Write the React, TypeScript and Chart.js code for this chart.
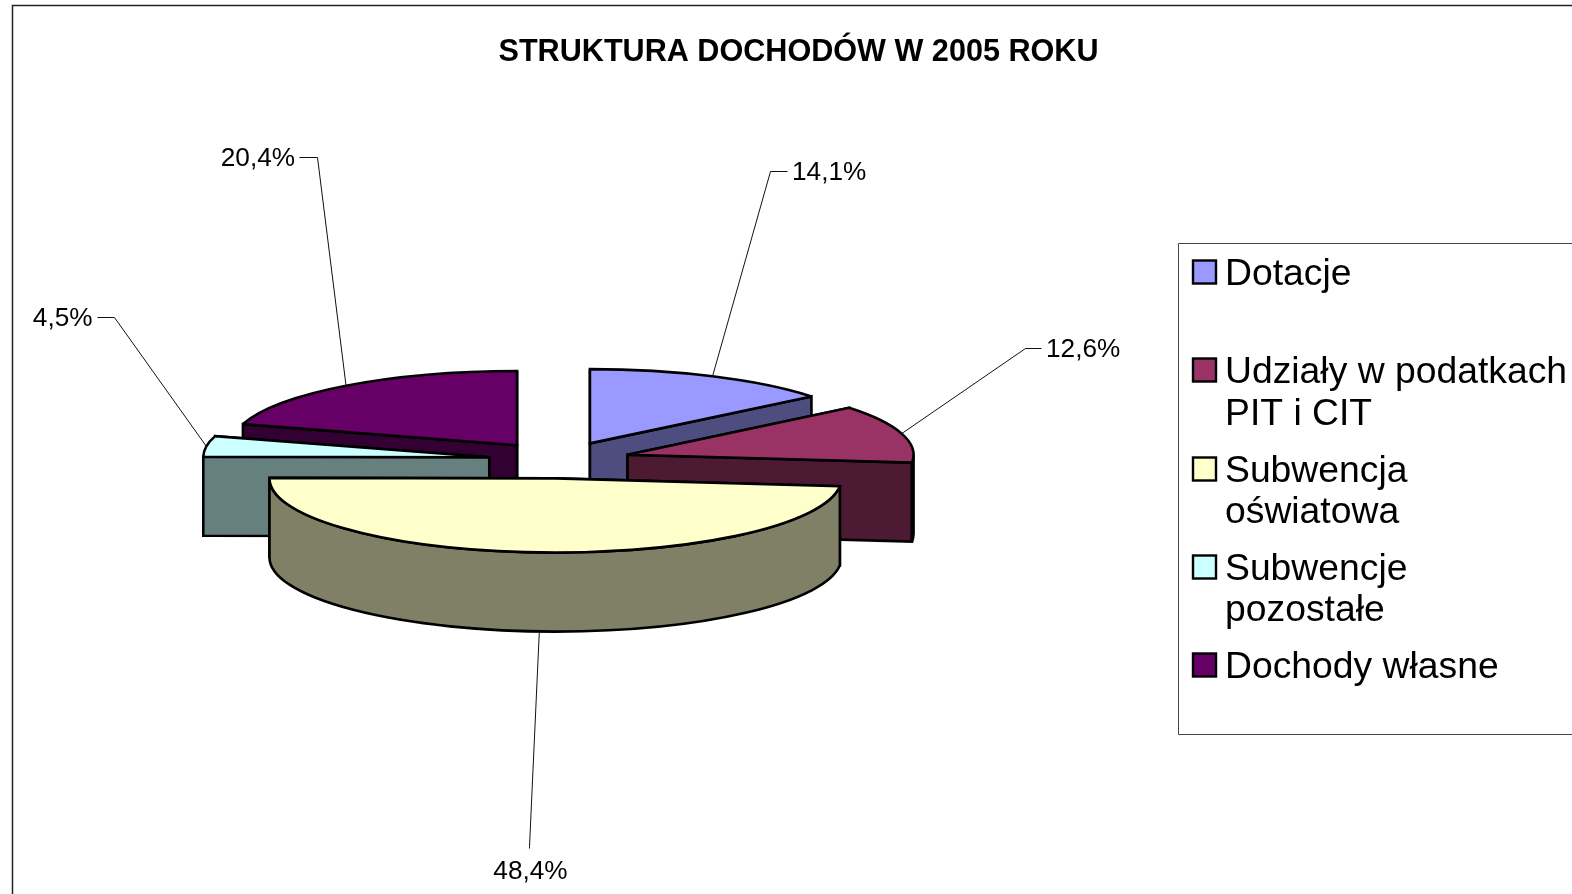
import React, { useEffect, useRef } from "react";
import { Chart, registerables } from "chart.js";

Chart.register(...registerables);

const titleText = "STRUKTURA DOCHODÓW W 2005 ROKU";
const categories = ["Dotacje", "Udziały w podatkach PIT i CIT", "Subwencja oświatowa", "Subwencje pozostałe", "Dochody własne"];
const legendLines = [["Dotacje"], ["Udziały w podatkach", "PIT i CIT"], ["Subwencja", "oświatowa"], ["Subwencje", "pozostałe"], ["Dochody własne"]];
const shares = [14.1, 12.6, 48.4, 4.5, 20.4];
const topColors = ["#9999FF", "#993366", "#FFFFCC", "#CCFFFF", "#660066"];
const wallColors = ["#4D4D80", "#4D1A33", "#808066", "#668080", "#330033"];
const wallOrder = [4, 0, 1, 3, 2];

// presentation constants
const FONT = '"Liberation Sans", Arial, sans-serif';
const SQUASH = 0.2594;
const DEPTH = 79;
const EXPLODE = 71;
const RADIUS = 286;
const elbows = [[770, 171], [1025, 348], [529, 846], [114, 317], [317, 157]];
const leaderEnds = [[787, 171], [1041, 348], [529, 848], [97, 317], [299, 157]];
const labelPos: [number, number, CanvasTextAlign][] = [
  [792, 172.5, "left"], [1046, 349.5, "left"], [530.5, 872, "center"], [92.5, 319, "right"], [295, 158.5, "right"],
];
const legendBox = { x: 1178.5, y: 243.5, bottom: 734.5 };
const swatchY = [260.5, 358.5, 457.5, 555.5, 653.5];
const legendBaselines = [[284.5], [383, 425], [482, 523], [580, 621], [678]];

const fmt = (v: number) => v.toFixed(1).replace(".", ",") + "%";

const pie3d = {
  id: "pie3d",
  beforeDatasetsDraw(chart: any) {
    const ctx: CanvasRenderingContext2D = chart.ctx;
    const arcs = chart.getDatasetMeta(0).data;
    const geo = arcs.map((arc: any) => {
      const { x, y, startAngle, endAngle, outerRadius } = arc.getProps(["x", "y", "startAngle", "endAngle", "outerRadius"]);
      const mid = (startAngle + endAngle) / 2;
      const ax = x + EXPLODE * Math.cos(mid);
      const ay = y + EXPLODE * SQUASH * Math.sin(mid);
      const at = (a: number, dy = 0) => [ax + outerRadius * Math.cos(a), ay + SQUASH * outerRadius * Math.sin(a) + dy];
      return { x, y, startAngle, endAngle, outerRadius, mid, ax, ay, at };
    });
    ctx.save();
    ctx.lineJoin = "miter";
    ctx.miterLimit = 2.5;
    ctx.lineWidth = 2.6;
    ctx.strokeStyle = "#000";

    const radialWall = (g: any, a: number, color: string) => {
      const p = g.at(a);
      ctx.beginPath();
      ctx.moveTo(g.ax, g.ay);
      ctx.lineTo(p[0], p[1]);
      ctx.lineTo(p[0], p[1] + DEPTH);
      ctx.lineTo(g.ax, g.ay + DEPTH);
      ctx.closePath();
      ctx.fillStyle = color;
      ctx.fill();
      ctx.stroke();
    };

    for (const i of wallOrder) {
      const g = geo[i];
      const color = wallColors[i];
      const walls = [
        { a: g.startAngle, front: Math.cos(g.startAngle) < 0 },
        { a: g.endAngle, front: Math.cos(g.endAngle) > 0 },
      ].sort((p, q) => Number(p.front) - Number(q.front));
      walls.forEach((w) => radialWall(g, w.a, color));
      const a0 = Math.max(g.startAngle, 0);
      const a1 = Math.min(g.endAngle, Math.PI);
      if (a1 > a0) {
        const rx = g.outerRadius;
        const ry = rx * SQUASH;
        ctx.beginPath();
        ctx.ellipse(g.ax, g.ay, rx, ry, 0, a0, a1);
        ctx.ellipse(g.ax, g.ay + DEPTH, rx, ry, 0, a1, a0, true);
        ctx.closePath();
        ctx.fillStyle = color;
        ctx.fill();
        ctx.stroke();
      }
    }

    // the library's own arc elements draw the top faces, moved and flattened
    arcs.forEach((arc: any, i: number) => {
      const g = geo[i];
      ctx.save();
      ctx.translate(g.ax, g.ay);
      ctx.scale(1, SQUASH);
      ctx.translate(-g.x, -g.y);
      arc.draw(ctx);
      ctx.restore();
      ctx.beginPath();
      ctx.moveTo(g.ax, g.ay);
      ctx.ellipse(g.ax, g.ay, g.outerRadius, g.outerRadius * SQUASH, 0, g.startAngle, g.endAngle);
      ctx.closePath();
      ctx.stroke();
    });

    // leader lines
    ctx.lineWidth = 1;
    ctx.strokeStyle = "#111";
    geo.forEach((g: any, i: number) => {
      const front = Math.sin(g.mid) > 0.5;
      const p = g.at(g.mid, front ? DEPTH : 0);
      ctx.beginPath();
      ctx.moveTo(p[0], p[1]);
      ctx.lineTo(elbows[i][0] + 0.5, elbows[i][1] + 0.5);
      ctx.lineTo(leaderEnds[i][0] + 0.5, leaderEnds[i][1] + 0.5);
      ctx.stroke();
    });
    ctx.restore();
    return false;
  },
  afterDraw(chart: any) {
    const ctx: CanvasRenderingContext2D = chart.ctx;
    ctx.save();
    // outer frame
    ctx.strokeStyle = "#222";
    ctx.lineWidth = 1.5;
    ctx.beginPath();
    ctx.moveTo(12.5, 900);
    ctx.lineTo(12.5, 5.5);
    ctx.lineTo(1580, 5.5);
    ctx.stroke();

    // title
    ctx.fillStyle = "#000";
    ctx.textBaseline = "alphabetic";
    ctx.textAlign = "center";
    ctx.font = `bold 30.6px ${FONT}`;
    ctx.fillText(titleText, 798.5, 60.5);

    // data labels
    ctx.font = `26.2px ${FONT}`;
    ctx.textBaseline = "middle";
    shares.forEach((v, i) => {
      const [x, y, align] = labelPos[i];
      ctx.textAlign = align;
      ctx.fillText(fmt(v), x, y);
    });

    // legend
    ctx.strokeStyle = "#444";
    ctx.lineWidth = 1;
    ctx.beginPath();
    ctx.moveTo(1580, legendBox.y);
    ctx.lineTo(legendBox.x, legendBox.y);
    ctx.lineTo(legendBox.x, legendBox.bottom);
    ctx.lineTo(1580, legendBox.bottom);
    ctx.stroke();
    ctx.textAlign = "left";
    ctx.textBaseline = "alphabetic";
    ctx.font = `37.3px ${FONT}`;
    categories.forEach((_, i) => {
      ctx.fillStyle = topColors[i];
      ctx.strokeStyle = "#000";
      ctx.lineWidth = 2.4;
      ctx.fillRect(1193, swatchY[i], 23, 23);
      ctx.strokeRect(1193, swatchY[i], 23, 23);
      ctx.fillStyle = "#000";
      legendLines[i].forEach((line, j) => ctx.fillText(line, 1225, legendBaselines[i][j]));
    });
    ctx.restore();
  },
};

export default function App() {
  const ref = useRef<HTMLCanvasElement>(null);
  useEffect(() => {
    document.body.style.margin = "0";
    document.body.style.background = "#fff";
    const chart = new Chart(ref.current!, {
      type: "pie",
      data: {
        labels: categories,
        datasets: [{ data: shares, backgroundColor: topColors, borderWidth: 0, clip: false } as any],
      },
      options: {
        responsive: false,
        animation: false,
        events: [],
        radius: RADIUS,
        layout: { padding: { right: 453, top: 26 } },
        plugins: { legend: { display: false }, title: { display: false }, tooltip: { enabled: false } },
      } as any,
      plugins: [pie3d as any],
    });
    return () => chart.destroy();
  }, []);
  return <canvas ref={ref} width={1572} height={894} style={{ display: "block", width: 1572, height: 894 }} />;
}
